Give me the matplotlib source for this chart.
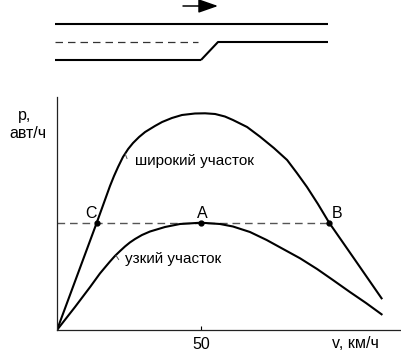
import matplotlib
matplotlib.use("Agg")
import matplotlib.pyplot as plt

plt.rcParams['font.family'] = ['Liberation Sans', 'DejaVu Sans']

# speed v (km/h) and flow p (veh/h)
wide_v = [0, 13.8, 18.4, 19.8, 21.2, 22.9, 24.7, 26.4, 28.5, 30.6, 34.0, 36.5, 39.9,
          43.4, 47.9, 51.4, 54.9, 58.3, 61.1, 66.0, 70.5, 75.3, 79.9, 83.3, 86.8,
          90.6, 94.5, 103.5, 112.7]
wide_p = [0, 1073, 1440, 1540, 1630, 1730, 1810, 1870, 1930, 1980, 2040, 2080, 2120,
          2150, 2165, 2167, 2160, 2135, 2100, 2030, 1933, 1820, 1700, 1570, 1430,
          1260, 1073, 700, 317]

narrow_v = [0, 6.25, 11.5, 14.9, 16.7, 18.4, 20.1, 21.9, 23.6, 25.3, 27.1, 29.5, 32.3,
            37.5, 42.7, 50.0, 56.6, 61.1, 67.0, 72.8, 78.5, 84.4, 90.3, 95.8, 101.7,
            107.3, 112.7]
narrow_p = [0, 230, 430, 565, 627, 685, 740, 790, 835, 875, 910, 950, 985,
            1030, 1060, 1073, 1060, 1035, 980, 900, 810, 717, 610, 500, 380,
            270, 157]

# points C, A, B on the capacity level
pt_names = ['C', 'A', 'B']
pt_v = [13.8, 50.0, 94.5]
pt_p = [1073, 1073, 1073]

# road sketch (pixel units of the sketch panel)
road_top_x = [55, 328]
road_top_y = [24, 24]
road_mid_x = [201, 218, 328]
road_mid_y = [60, 42, 42]
road_low_x = [55, 201]
road_low_y = [60, 60]
road_lane_x = [55, 198]
road_lane_y = [42, 42]

fig = plt.figure(figsize=(4.01, 3.6), dpi=100)

# --- road sketch ---
rax = fig.add_axes([0, 290 / 360, 1, 70 / 360])
rax.set_xlim(0, 401)
rax.set_ylim(70, 0)
rax.axis('off')
rax.plot(road_top_x, road_top_y, color='k', lw=1.5, solid_capstyle='butt')
rax.plot(road_mid_x, road_mid_y, color='k', lw=1.5, solid_capstyle='butt')
rax.plot(road_low_x, road_low_y, color='k', lw=1.5, solid_capstyle='butt')
rax.plot(road_lane_x, road_lane_y, color='#333333', lw=0.9, linestyle=(0, (6, 4)))
rax.annotate('', xy=(218, 6), xytext=(183, 6),
             arrowprops=dict(arrowstyle='-|>,head_length=1.0,head_width=0.35',
                             color='k', lw=1.1, shrinkA=0, shrinkB=0,
                             mutation_scale=12))

# --- main chart ---
ax = fig.add_axes([57 / 401, 30 / 360, 343 / 401, 233 / 360])
ax.set_xlim(0, 119.1)
ax.set_ylim(0, 2330)
for s in ['top', 'right']:
    ax.spines[s].set_visible(False)
for s in ['left', 'bottom']:
    ax.spines[s].set_linewidth(0.9)
    ax.spines[s].set_color('#222222')

ax.plot(wide_v, wide_p, color='k', lw=1.5)
ax.plot(narrow_v, narrow_p, color='k', lw=1.5)
ax.plot([0, pt_v[2]], [pt_p[2], pt_p[2]], color='#555555', lw=1.0,
        linestyle=(0, (5.5, 3.5)), zorder=1)
ax.plot(pt_v, pt_p, 'o', color='k', ms=3.5)

for name, v, p in zip(pt_names, pt_v, pt_p):
    dx = {'C': -2.0, 'A': 0.5, 'B': 2.8}[name]
    ax.text(v + dx, p + 95, name, ha='center', va='center', fontsize=11.5)

ax.text(27.1, 1690, 'широкий участок', ha='left', va='center', fontsize=11)
ax.text(23.6, 710, 'узкий участок', ha='left', va='center', fontsize=11)
ax.plot([23.7, 24.3], [1760, 1715], color='#555555', lw=0.7)
ax.plot([20.5, 21.4], [745, 705], color='#555555', lw=0.7)

ax.set_yticks([])
ax.set_xticks([50])
ax.set_xticklabels(['50'], fontsize=11.5)
ax.tick_params(axis='x', direction='in', length=3, width=0.8, pad=5)

ax.text(-11.1, 2150, 'p,', ha='center', va='center', fontsize=11.5, clip_on=False)
ax.text(-10.1, 1970, 'авт/ч', ha='center', va='center', fontsize=11.5, clip_on=False)
ax.text(103.5, -130, 'v, км/ч', ha='center', va='center', fontsize=11.5, clip_on=False)

fig.savefig('out.png', dpi=100)
